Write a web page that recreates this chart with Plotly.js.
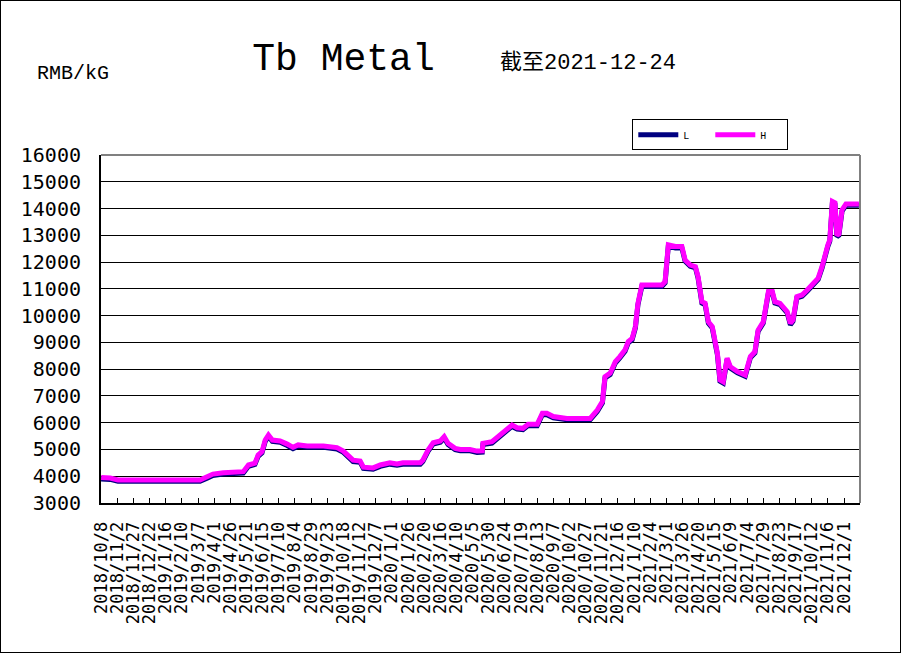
<!DOCTYPE html>
<html>
<head>
<meta charset="utf-8">
<script src="https://cdn.plot.ly/plotly-3.0.1.min.js"></script>
<style>
html,body{margin:0;padding:0;background:#fff;}
#chart{width:899px;height:651px;border:1px solid #000;}
</style>
</head>
<body>
<div id="chart"></div>
<script>
const dates = [
'2018-10-08','2018-10-22','2018-11-03','2018-12-07','2019-01-23','2019-03-10','2019-03-21','2019-03-30',
'2019-04-15','2019-05-07','2019-05-16','2019-05-24','2019-06-03','2019-06-08','2019-06-14','2019-06-19',
'2019-06-24','2019-06-30','2019-07-12','2019-07-23','2019-08-01','2019-08-09','2019-08-23','2019-09-17',
'2019-09-23','2019-10-08','2019-10-18','2019-11-02','2019-11-13','2019-11-18','2019-12-03','2019-12-14',
'2019-12-29','2020-01-09','2020-01-18','2020-02-14','2020-02-18','2020-02-26','2020-03-05','2020-03-16',
'2020-03-22','2020-03-28','2020-04-08','2020-04-16','2020-05-01','2020-05-12','2020-05-20','2020-05-21',
'2020-06-04','2020-06-17','2020-06-27','2020-07-05','2020-07-13','2020-07-22','2020-07-30','2020-08-13',
'2020-08-21','2020-08-28','2020-09-07','2020-09-28','2020-11-03','2020-11-14','2020-11-22','2020-11-26',
'2020-12-04','2020-12-12','2020-12-19','2020-12-27','2021-01-01','2021-01-07','2021-01-12','2021-01-16',
'2021-01-22','2021-02-22','2021-02-27','2021-03-04','2021-03-15','2021-03-25','2021-03-30','2021-04-07',
'2021-04-15','2021-04-19','2021-04-25','2021-04-30','2021-05-05','2021-05-11','2021-05-19','2021-05-23',
'2021-05-28','2021-06-03','2021-06-08','2021-06-19','2021-07-01','2021-07-09','2021-07-16','2021-07-21',
'2021-07-29','2021-08-06','2021-08-12','2021-08-16','2021-08-24','2021-09-04','2021-09-09','2021-09-13',
'2021-09-19','2021-09-27','2021-10-05','2021-10-14','2021-10-22','2021-10-28','2021-11-02','2021-11-06',
'2021-11-09','2021-11-13','2021-11-17','2021-11-20','2021-11-23','2021-11-28','2021-12-04','2021-12-24'
];
const hVals = [
3950,3930,3860,3850,3860,3860,3980,4080,
4130,4130,4170,4420,4490,4790,4920,5350,
5540,5350,5320,5200,5080,5170,5130,5130,
5100,5070,4940,4600,4570,4340,4310,4420,
4500,4460,4500,4500,4600,4980,5250,5320,
5480,5230,5040,5000,5000,4940,4950,5230,
5290,5540,5700,5910,5810,5790,5940,5940,
6350,6350,6230,6160,6160,6470,6790,7720,
7850,8280,8470,8720,9030,9150,9590,10460,
11140,11140,11270,12640,12580,12580,12080,11890,
11830,11460,10520,10460,9770,9590,8590,7600,
7530,8410,8090,7910,7780,8470,8650,9460,
9770,10900,10900,10520,10460,10150,9710,9840,
10710,10770,10960,11210,11400,11830,12330,12640,
12830,14260,14210,13000,13050,13950,14170,14170
];
const lVals = [
3900,3880,3810,3800,3810,3810,3930,4030,
4080,4080,4120,4370,4440,4740,4870,5300,
5490,5300,5270,5150,5030,5120,5080,5080,
5050,5020,4890,4550,4520,4290,4260,4370,
4450,4410,4450,4450,4550,4930,5200,5270,
5430,5180,4990,4950,4950,4890,4900,5180,
5240,5490,5650,5860,5760,5740,5890,5890,
6300,6300,6180,6110,6110,6420,6740,7670,
7800,8230,8420,8670,8980,9100,9540,10410,
11090,11090,11220,12590,12530,12530,12030,11840,
11780,11410,10470,10410,9720,9540,8540,7550,
7480,8360,8040,7860,7730,8420,8600,9410,
9720,10850,10850,10470,10410,10100,9660,9790,
10660,10720,10910,11160,11350,11780,12280,12590,
12780,14210,14160,12950,13000,13900,14120,14120
];
const seriesNames = ['L','H'];
const titleText = 'Tb Metal';
const dateNote = '截至2021-12-24';
const unitText = 'RMB/kG';

const mono = 'Liberation Mono, Noto Sans CJK SC, monospace';
const traces = [
  {x: dates, y: lVals, name: seriesNames[0], type: 'scatter', mode: 'lines',
   line: {color: '#000080', width: 5}},
  {x: dates, y: hVals, name: seriesNames[1], type: 'scatter', mode: 'lines',
   line: {color: '#FF00FF', width: 5}}
];
const layout = {
  width: 899, height: 651,
  margin: {l: 100, r: 40, t: 154, b: 149},
  paper_bgcolor: '#fff', plot_bgcolor: '#fff',
  showlegend: true,
  title: {text: titleText, x: 0.381, xanchor: 'center', y: 0.915, yanchor: 'middle',
          font: {family: mono, size: 38, color: '#000'}},
  xaxis: {
    type: 'date', range: ['2018-10-07 18:00', '2021-12-25 18:00'],
    tick0: '2018-10-08', dtick: 25 * 86400000, tickformat: '%Y/%-m/%-d',
    tickangle: -90, ticks: 'inside', ticklen: 5, tickcolor: '#000', tickwidth: 1,
    showgrid: false, showline: true, linecolor: '#000', linewidth: 2,
    tickfont: {family: 'DejaVu Sans Mono, monospace', size: 17, color: '#000'},
    ticklabelstandoff: 10, zeroline: false
  },
  yaxis: {
    range: [3000, 16000], dtick: 1000, tick0: 0, ticks: '', tickformat: 'd',
    showgrid: true, gridcolor: '#000', gridwidth: 1,
    showline: true, linecolor: '#000', linewidth: 2, zeroline: false,
    tickfont: {family: 'DejaVu Sans Mono, monospace', size: 20, color: '#000'},
    ticklabelstandoff: 14
  },
  legend: {
    orientation: 'h', x: 0.70, xanchor: 'left', y: 1.103, yanchor: 'top',
    bordercolor: '#000', borderwidth: 1, bgcolor: '#fff',
    font: {family: mono, size: 10, color: '#000'},
    itemwidth: 40, entrywidth: 22, entrywidthmode: 'pixels',
    tracegroupgap: 0
  },
  shapes: [
    {type: 'line', xref: 'paper', yref: 'paper', x0: 0, x1: 1, y0: 1, y1: 1,
     line: {color: '#808080', width: 2}},
    {type: 'line', xref: 'paper', yref: 'paper', x0: 1, x1: 1, y0: 0, y1: 1,
     line: {color: '#808080', width: 2}}
  ],
  annotations: [
    {text: dateNote, xref: 'paper', yref: 'paper', x: 0.6416, y: 1.264,
     xanchor: 'center', yanchor: 'middle', showarrow: false,
     font: {family: mono, size: 22, color: '#000'}},
    {text: unitText, xref: 'paper', yref: 'paper', x: -0.0369, y: 1.2356,
     xanchor: 'center', yanchor: 'middle', showarrow: false,
     font: {family: mono, size: 20, color: '#000'}}
  ]
};
Plotly.newPlot('chart', traces, layout, {displayModeBar: false, staticPlot: true});
</script>
</body>
</html>
